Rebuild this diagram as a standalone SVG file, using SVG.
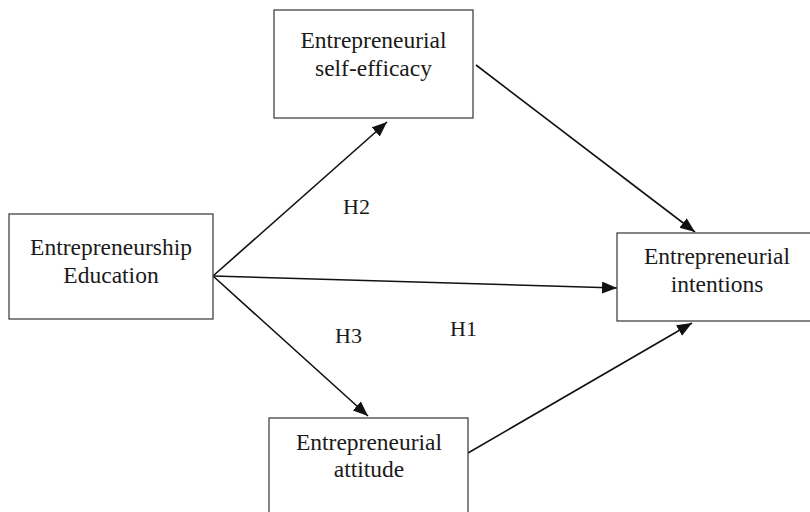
<svg xmlns="http://www.w3.org/2000/svg" width="810" height="512" viewBox="0 0 810 512">
<style>
.box{fill:#fff;stroke:#444;stroke-width:1.3}
.t{font-family:"Liberation Serif","Times New Roman",serif;font-size:23.5px;fill:#1a1a1a;text-anchor:middle}
.lbl{font-family:"Liberation Serif","Times New Roman",serif;font-size:22px;fill:#1a1a1a}
.c{stroke:#111;stroke-width:1.6;fill:none;marker-end:url(#ah)}
</style>
<defs>
<marker id="ah" markerUnits="userSpaceOnUse" markerWidth="16" markerHeight="14" refX="15" refY="6" orient="auto">
<path d="M0,0 L15,6 L0,12 z" fill="#111"/>
</marker>
</defs>
<rect width="810" height="512" fill="#fff"/>
<g id="connectors">
<line class="c" x1="213" y1="276" x2="387" y2="122"/>
<line class="c" x1="213" y1="276" x2="617" y2="288"/>
<line class="c" x1="213" y1="276" x2="368" y2="416"/>
<line class="c" x1="476" y1="65" x2="695" y2="232"/>
<line class="c" x1="468" y1="453" x2="692" y2="323"/>
</g>
<g id="self-efficacy">
<rect class="box" x="274" y="10" width="199" height="108"/>
<text class="t" x="373.5" y="48">Entrepreneurial</text>
<text class="t" x="373.5" y="76">self-efficacy</text>
</g>
<g id="education">
<rect class="box" x="9" y="214" width="204" height="105"/>
<text class="t" x="111" y="255">Entrepreneurship</text>
<text class="t" x="111" y="283">Education</text>
</g>
<g id="intentions">
<rect class="box" x="617" y="233" width="200" height="88"/>
<text class="t" x="717" y="264">Entrepreneurial</text>
<text class="t" x="717" y="292">intentions</text>
</g>
<g id="attitude">
<rect class="box" x="269" y="418" width="199" height="110"/>
<text class="t" x="369" y="450">Entrepreneurial</text>
<text class="t" x="369" y="477">attitude</text>
</g>
<g id="labels">
<text class="lbl" x="343" y="214">H2</text>
<text class="lbl" x="335" y="343">H3</text>
<text class="lbl" x="450" y="336">H1</text>
</g>
</svg>
